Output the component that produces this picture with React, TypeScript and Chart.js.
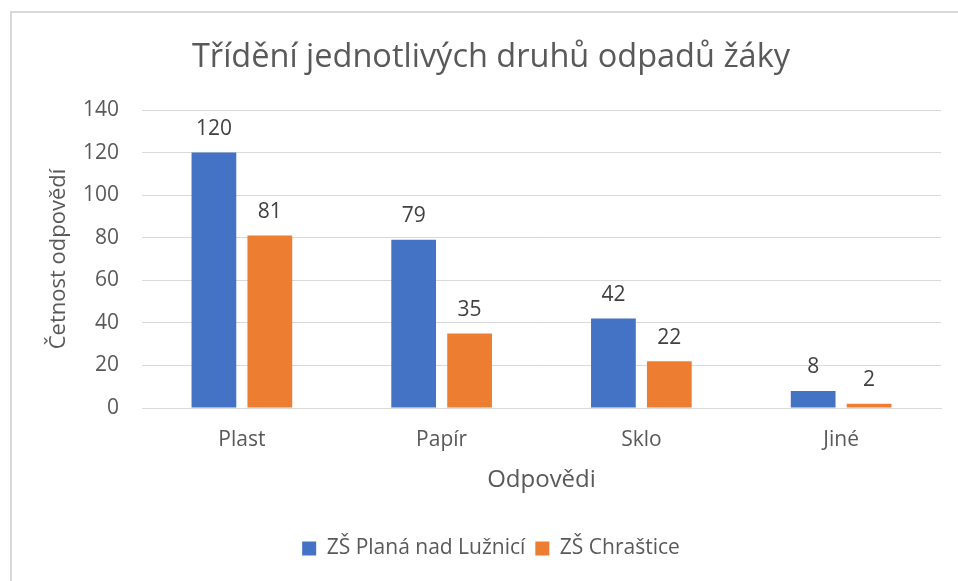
import React, { useEffect, useRef } from "react";
import { Chart, registerables } from "chart.js";

Chart.register(...registerables);

const categories = ["Plast", "Papír", "Sklo", "Jiné"];
const seriesNames = ["ZŠ Planá nad Lužnicí", "ZŠ Chraštice"];
const planaValues = [120, 79, 42, 8];
const chrasticeValues = [81, 35, 22, 2];
const titleText = "Třídění jednotlivých druhů odpadů žáky";
const xTitle = "Odpovědi";
const yTitle = "Četnost odpovědí";

const FONT = "'Open Sans', sans-serif";
const TEXT = "#595959";
const GRID = "#d9d9d9";

const dataLabelPlugin = {
  id: "dataLabels",
  afterDatasetsDraw(chart: any) {
    const ctx = chart.ctx;
    ctx.save();
    ctx.font = `21px ${FONT}`;
    ctx.fillStyle = "#404040";
    ctx.textAlign = "center";
    ctx.textBaseline = "alphabetic";
    chart.data.datasets.forEach((ds: any, i: number) => {
      const meta = chart.getDatasetMeta(i);
      meta.data.forEach((bar: any, j: number) => {
        ctx.fillText(String(ds.data[j]), bar.x, bar.y - 17.5);
      });
    });
    ctx.restore();
  },
};

export default function App() {
  const ref = useRef<HTMLCanvasElement | null>(null);
  useEffect(() => {
    if (!ref.current) return;
    const chart = new Chart(ref.current, {
      type: "bar",
      data: {
        labels: categories,
        datasets: [
          {
            label: seriesNames[0],
            data: planaValues,
            backgroundColor: "#4472c4",
            categoryPercentage: 0.56,
            barPercentage: 0.8,
          },
          {
            label: seriesNames[1],
            data: chrasticeValues,
            backgroundColor: "#ed7d31",
            categoryPercentage: 0.56,
            barPercentage: 0.8,
          },
        ],
      },
      options: {
        responsive: false,
        animation: false,
        devicePixelRatio: 1,
        layout: { padding: { left: 41, right: 17, top: 0, bottom: 12 } },
        plugins: {
          title: {
            display: true,
            text: titleText,
            color: TEXT,
            font: { family: FONT, size: 32.5, weight: "normal", lineHeight: 1.2 },
            padding: { top: 38, bottom: 33 },
          },
          legend: {
            position: "bottom",
            labels: {
              color: TEXT,
              font: { family: FONT, size: 21 },
              boxWidth: 14,
              boxHeight: 14,
              padding: 10,
            },
          },
          tooltip: { enabled: false },
        },
        scales: {
          x: {
            grid: { display: false },
            border: { display: true, color: GRID, width: 1 },
            ticks: {
              color: TEXT,
              font: { family: FONT, size: 21 },
              padding: 11,
            },
            title: {
              display: true,
              text: xTitle,
              color: TEXT,
              font: { family: FONT, size: 24, lineHeight: 1.2 },
              padding: { top: 0, bottom: 33 },
            },
            afterFit: (scale: any) => {
              scale.height = 120;
            },
          },
          y: {
            min: 0,
            max: 140,
            ticks: {
              stepSize: 20,
              color: TEXT,
              font: { family: FONT, size: 21 },
              padding: 23,
            },
            grid: { color: GRID, lineWidth: 1, drawTicks: false },
            border: { display: false },
            title: {
              display: true,
              text: yTitle,
              color: TEXT,
              font: { family: FONT, size: 22, lineHeight: 1.2 },
              padding: { top: 5, bottom: 0 },
            },
            afterFit: (scale: any) => {
              scale.width = 101;
            },
          },
        },
      },
      plugins: [dataLabelPlugin],
    });
    return () => chart.destroy();
  }, []);

  return (
    <div
      style={{
        position: "fixed",
        left: 0,
        top: 0,
        width: 958,
        height: 581,
        overflow: "hidden",
        background: "#fff",
      }}
    >
      <div
        style={{
          position: "absolute",
          left: 10,
          top: 11,
          width: 1000,
          height: 1000,
          border: `2px solid ${GRID}`,
          boxSizing: "border-box",
        }}
      />
      <canvas
        ref={ref}
        width={958}
        height={581}
        style={{ position: "absolute", left: 0, top: 0, width: 958, height: 581 }}
      />
    </div>
  );
}
